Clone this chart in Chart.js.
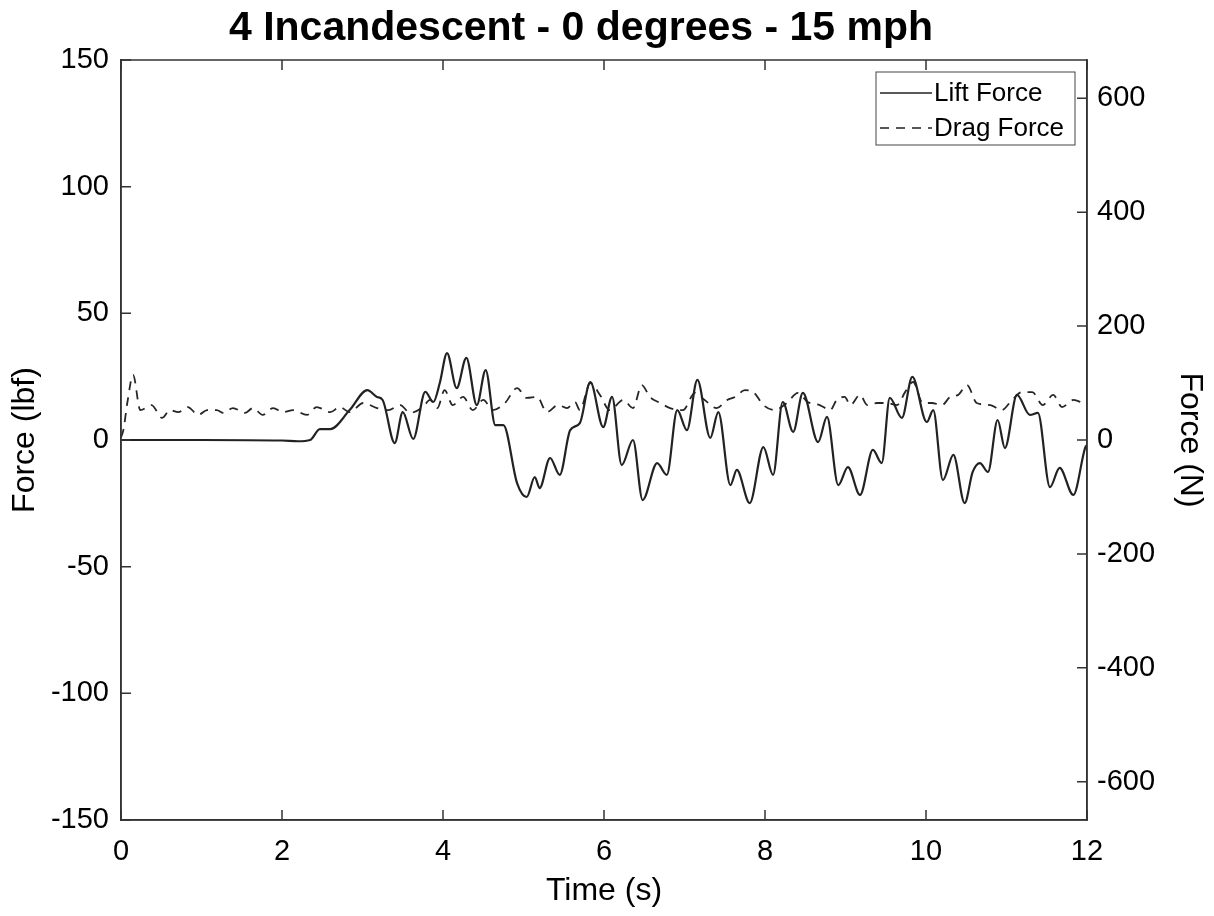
<!DOCTYPE html>
<html>
<head>
<meta charset="utf-8">
<script src="https://cdn.jsdelivr.net/npm/chart.js@4"></script>
<style>
  html, body { margin: 0; padding: 0; background: #fff; }
  #wrap { width: 1214px; height: 916px; }
</style>
</head>
<body>
<div id="wrap"><canvas id="c" width="1214" height="916"></canvas></div>
<script>
// ---- data (time in s, force in lbf) ----
const liftTime = [0, 1, 2, 2.2, 2.35, 2.47, 2.6, 2.84, 3.06, 3.18, 3.25, 3.4, 3.5, 3.63, 3.78, 3.88, 3.96, 4.05, 4.17, 4.29, 4.42, 4.53, 4.65, 4.75, 4.92, 5.04, 5.14, 5.2, 5.33, 5.45, 5.58, 5.7, 5.83, 5.99, 6.1, 6.22, 6.36, 6.48, 6.66, 6.78, 6.91, 7.03, 7.16, 7.32, 7.42, 7.57, 7.65, 7.81, 7.98, 8.1, 8.22, 8.35, 8.47, 8.66, 8.77, 8.91, 9.03, 9.18, 9.34, 9.45, 9.55, 9.7, 9.83, 10.01, 10.09, 10.21, 10.34, 10.48, 10.58, 10.67, 10.77, 10.89, 10.98, 11.13, 11.29, 11.39, 11.54, 11.66, 11.83, 11.98, 12];
const liftForce = [0, 0, -0.2, -0.5, 0, 4.3, 4.3, 11.8, 19.7, 17, 15.8, -1.2, 11, 0.4, 19, 15, 22.5, 34.3, 20.5, 32.4, 13.8, 27.6, 5.9, 5.9, -17, -22.5, -14.6, -19, -7.1, -13.8, 3.9, 6.7, 22.9, 5.1, 17, -9.9, 0, -23.7, -9.1, -13.8, 11.8, 3.9, 23.7, 0.8, 11, -17.8, -11.8, -24.9, -2.8, -13.8, 15, 3.2, 18.6, -0.8, 9.1, -17.8, -10.7, -21.7, -3.9, -9.1, 16.6, 8.7, 24.9, 7.1, 11.8, -15.8, -5.9, -24.9, -12.6, -9.1, -12.6, 7.9, -3.2, 17.8, 9.9, 10.7, -18.6, -11, -21.7, -2.8, -2];

const dragTime = [0, 0.03, 0.08, 0.15, 0.24, 0.38, 0.51, 0.61, 0.71, 0.83, 0.96, 1.07, 1.19, 1.27, 1.39, 1.54, 1.64, 1.76, 1.89, 2.01, 2.14, 2.31, 2.43, 2.6, 2.72, 2.84, 3.01, 3.18, 3.32, 3.47, 3.59, 3.75, 3.84, 3.93, 4.02, 4.12, 4.25, 4.37, 4.5, 4.62, 4.77, 4.92, 5.04, 5.17, 5.29, 5.43, 5.54, 5.64, 5.7, 5.83, 5.95, 6.07, 6.24, 6.36, 6.47, 6.57, 6.7, 6.82, 6.98, 7.13, 7.25, 7.4, 7.53, 7.63, 7.75, 7.86, 7.98, 8.12, 8.27, 8.41, 8.53, 8.68, 8.81, 8.89, 8.99, 9.06, 9.18, 9.27, 9.39, 9.52, 9.64, 9.74, 9.84, 9.96, 10.07, 10.2, 10.3, 10.4, 10.51, 10.63, 10.8, 10.94, 11.07, 11.19, 11.32, 11.45, 11.58, 11.69, 11.83, 11.95, 12];
const dragForce = [1, 4, 15, 25.7, 11.8, 13.8, 8.7, 11.8, 11, 13, 9.9, 11.8, 11.8, 10.7, 12.6, 10.7, 12.6, 9.9, 12.6, 11, 11.8, 9.9, 13, 11, 13, 11, 14.6, 12.6, 11.8, 13.8, 10.7, 13, 15.8, 12.6, 19.7, 13.8, 17, 11.8, 15.8, 11.8, 14.6, 20.5, 16.6, 17, 11, 13.8, 12.6, 15, 11.8, 22.5, 17.8, 11.8, 15.8, 12.6, 21.7, 17, 14.6, 12.6, 11.8, 18.6, 15.8, 12.6, 15.8, 17, 19.7, 18.8, 13.8, 11.8, 14.6, 18.6, 15, 13.8, 11.8, 15.8, 17, 13.8, 17.8, 13.8, 14.6, 14.6, 13.8, 18.9, 22.9, 14.6, 14.6, 13.8, 17, 17.8, 21.7, 14.6, 13.8, 11.8, 15.8, 18.9, 18.9, 13.8, 17.8, 13, 15.8, 14.6, 14];

const xTicks = [0, 2, 4, 6, 8, 10, 12];
const yTicksLbf = [-150, -100, -50, 0, 50, 100, 150];
const yTicksN = [-600, -400, -200, 0, 200, 400, 600];
const LBF_TO_N = 4.4482;
const TITLE = '4 Incandescent - 0 degrees - 15 mph';

const FONT = 'Liberation Sans, Arial, Helvetica, sans-serif';
const AXIS = '#333';
const TEXT = '#000';

const toPoints = (xs, ys) => xs.map((x, i) => ({ x, y: ys[i] }));

// ---- title, box around the axes, inward tick marks, boxed legend (MATLAB look) ----
const matlabFrame = {
  id: 'matlabFrame',
  afterDraw(chart) {
    const { ctx, chartArea: a, scales } = chart;
    ctx.save();

    // title sits a little left of centre, like the source figure
    ctx.fillStyle = TEXT;
    ctx.font = 'bold 41px ' + FONT;
    ctx.textAlign = 'center';
    ctx.textBaseline = 'middle';
    ctx.fillText(TITLE, 581, 29);
    ctx.textAlign = 'left';

    ctx.strokeStyle = AXIS;
    ctx.lineWidth = 1.5;
    ctx.strokeRect(a.left, a.top, a.right - a.left, a.bottom - a.top);

    const len = 10;
    ctx.beginPath();
    xTicks.forEach((v) => {
      const px = scales.x.getPixelForValue(v);
      ctx.moveTo(px, a.bottom); ctx.lineTo(px, a.bottom - len);
      ctx.moveTo(px, a.top); ctx.lineTo(px, a.top + len);
    });
    yTicksLbf.forEach((v) => {
      const py = scales.y.getPixelForValue(v);
      ctx.moveTo(a.left, py); ctx.lineTo(a.left + len, py);
    });
    yTicksN.forEach((v) => {
      const py = scales.y2.getPixelForValue(v);
      ctx.moveTo(a.right, py); ctx.lineTo(a.right - len, py);
    });
    ctx.stroke();

    // legend
    const lx = 876, ly = 72, lw = 199, lh = 73;
    ctx.fillStyle = '#fff';
    ctx.fillRect(lx, ly, lw, lh);
    ctx.lineWidth = 1;
    ctx.strokeStyle = '#444';
    ctx.strokeRect(lx, ly, lw, lh);
    ctx.font = '26px ' + FONT;
    ctx.textBaseline = 'middle';
    ctx.fillStyle = TEXT;
    chart.data.datasets.forEach((ds, i) => {
      const y = ly + 21 + i * 35;
      ctx.beginPath();
      ctx.setLineDash(ds.borderDash || []);
      ctx.lineWidth = 1.5;
      ctx.strokeStyle = '#222';
      ctx.moveTo(lx + 4, y); ctx.lineTo(lx + 56, y);
      ctx.stroke();
      ctx.setLineDash([]);
      ctx.fillText(ds.label, lx + 58, y + 1);
    });
    ctx.restore();
  },
};

new Chart(document.getElementById('c'), {
  type: 'line',
  data: {
    datasets: [
      {
        label: 'Lift Force',
        data: toPoints(liftTime, liftForce),
        borderColor: '#222',
        borderWidth: 2.2,
        pointRadius: 0,
        cubicInterpolationMode: 'monotone',
        yAxisID: 'y',
      },
      {
        label: 'Drag Force',
        data: toPoints(dragTime, dragForce),
        borderColor: '#262626',
        borderWidth: 1.8,
        borderDash: [9, 7],
        pointRadius: 0,
        cubicInterpolationMode: 'monotone',
        yAxisID: 'y',
      },
    ],
  },
  options: {
    responsive: false,
    animation: false,
    layout: { padding: { top: 60 } },
    plugins: {
      legend: { display: false },
      tooltip: { enabled: false },
      title: { display: false },
    },
    scales: {
      x: {
        type: 'linear',
        min: 0,
        max: 12,
        afterBuildTicks: (s) => { s.ticks = xTicks.map((v) => ({ value: v })); },
        afterFit: (s) => { s.height = 96; },
        grid: { display: false, drawTicks: false },
        border: { display: true, color: AXIS, width: 1.5 },
        ticks: { color: TEXT, padding: 15, font: { family: FONT, size: 29 } },
        title: { display: true, text: 'Time (s)', color: TEXT, font: { family: FONT, size: 32 }, padding: { top: 4, bottom: 6 } },
      },
      y: {
        position: 'left',
        min: -150,
        max: 150,
        afterBuildTicks: (s) => { s.ticks = yTicksLbf.map((v) => ({ value: v })); },
        afterFit: (s) => { s.width = 121; },
        grid: { display: false, drawTicks: false },
        border: { display: true, color: AXIS, width: 1.5 },
        ticks: { color: TEXT, padding: 12, font: { family: FONT, size: 29 } },
        title: { display: true, text: 'Force (lbf)', color: TEXT, font: { family: FONT, size: 32 }, padding: { top: 6, bottom: 4 } },
      },
      y2: {
        position: 'right',
        min: -150 * LBF_TO_N,
        max: 150 * LBF_TO_N,
        afterBuildTicks: (s) => { s.ticks = yTicksN.map((v) => ({ value: v })); },
        afterFit: (s) => { s.width = 127; },
        grid: { display: false, drawTicks: false },
        border: { display: true, color: AXIS, width: 1.5 },
        ticks: { color: TEXT, padding: 10, font: { family: FONT, size: 29 } },
        title: { display: true, text: 'Force (N)', color: TEXT, font: { family: FONT, size: 32 }, padding: { top: 5, bottom: 4 } },
      },
    },
  },
  plugins: [matlabFrame],
});
</script>
</body>
</html>
